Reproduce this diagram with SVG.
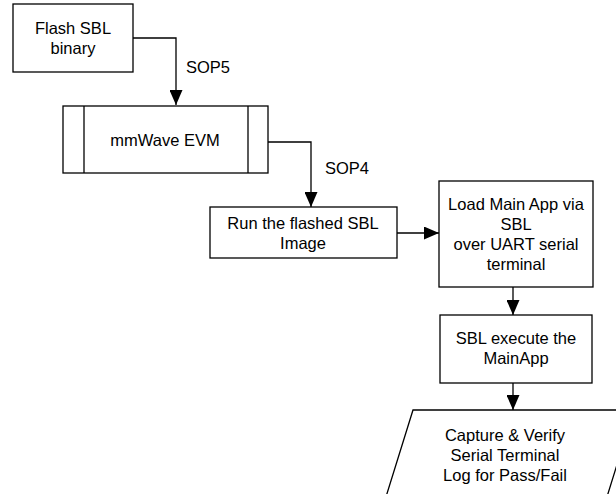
<svg xmlns="http://www.w3.org/2000/svg" width="616" height="494" viewBox="0 0 616 494">
<style>
.box{fill:#fff;stroke:#000;stroke-width:1.3}
.ln{fill:none;stroke:#000;stroke-width:1.3}
text{font-family:"Liberation Sans",Arial,sans-serif;font-size:16.5px;fill:#000;text-anchor:middle}
.lbl{text-anchor:start}
</style>
<defs>
<marker id="ah" markerWidth="15" markerHeight="13" refX="15" refY="6.5" orient="auto" markerUnits="userSpaceOnUse">
<path d="M0,0 L15,6.5 L0,13 Z" fill="#000"/>
</marker>
</defs>
<rect width="616" height="494" fill="#fff"/>
<g id="connectors">
<path class="ln" d="M133,38 H176 V105" marker-end="url(#ah)"/>
<text class="lbl" x="186" y="73">SOP5</text>
<path class="ln" d="M268,142 H311 V207" marker-end="url(#ah)"/>
<text class="lbl" x="325" y="174">SOP4</text>
<path class="ln" d="M397,233 H439" marker-end="url(#ah)"/>
<path class="ln" d="M513,287 V315" marker-end="url(#ah)"/>
<path class="ln" d="M513,383 V410" marker-end="url(#ah)"/>
</g>
<g id="flash">
<rect class="box" x="13" y="4" width="120" height="68"/>
<text x="73" y="34">Flash SBL</text>
<text x="73" y="54">binary</text>
</g>
<g id="evm">
<rect class="box" x="63" y="106" width="205" height="67"/>
<line class="ln" x1="84" y1="106" x2="84" y2="173"/>
<line class="ln" x1="248" y1="106" x2="248" y2="173"/>
<text x="165" y="146">mmWave EVM</text>
</g>
<g id="run">
<rect class="box" x="210" y="207" width="187" height="51"/>
<text x="303" y="229">Run the flashed SBL</text>
<text x="303" y="249">Image</text>
</g>
<g id="load">
<rect class="box" x="439" y="181" width="154" height="106"/>
<text x="516" y="210">Load Main App via</text>
<text x="516" y="230">SBL</text>
<text x="516" y="250">over UART serial</text>
<text x="516" y="270">terminal</text>
</g>
<g id="exec">
<rect class="box" x="440" y="315" width="152" height="68"/>
<text x="516" y="344">SBL execute the</text>
<text x="516" y="364">MainApp</text>
</g>
<g id="capture">
<path class="box" d="M413,410 H634 L606,500 H385 Z"/>
<text x="505" y="441">Capture &amp; Verify</text>
<text x="505" y="461">Serial Terminal</text>
<text x="505" y="481">Log for Pass/Fail</text>
</g>
</svg>
